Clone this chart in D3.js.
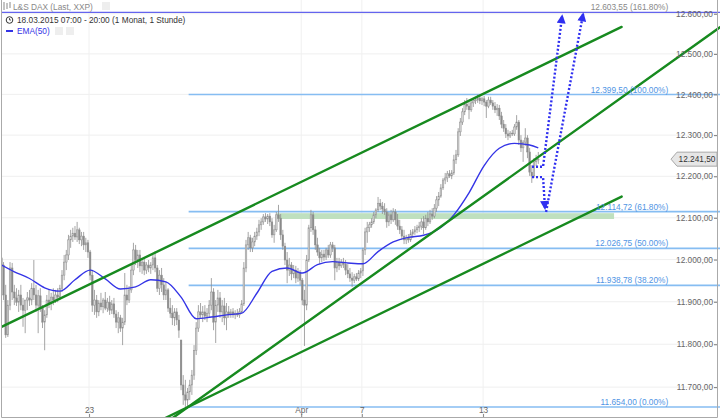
<!DOCTYPE html>
<html>
<head>
<meta charset="utf-8">
<script src="https://cdnjs.cloudflare.com/ajax/libs/d3/7.8.5/d3.min.js"></script>
<style>
  body { margin: 0; background: #fff; }
  #graphic { width: 720px; height: 419px; overflow: hidden; }
  text { font-family: "Liberation Sans", Arial, sans-serif; }
</style>
</head>
<body>
<div id="graphic"></div>
<script>
const WIDTH = 720;
const HEIGHT = 419;
const PLOT_TOP = 12.3;
const PLOT_BOTTOM = 407;
const X_START = -0.8;
const CANDLE_STEP = 2.165;
const X_SLOTS = 332;
const FONT_SIZE = "8.3px";

// hourly candles, 14 per day, [open, high, low, close]
const CANDLES = [
  // 18.03.
  [12011,12030,11994,12004],[12004,12023,11980,11987],[11987,11994,11904,11916],[11916,11940,11815,11822],[11822,11904,11817,11892],[11892,11994,11880,11980],[11980,11992,11904,11923],[11923,11940,11892,11909],[11909,11932,11890,11899],[11899,11928,11876,11916],[11916,11940,11880,11892],[11892,11909,11841,11880],[11880,11904,11826,11904],[11904,11923,11880,11909],
  // 19.03.
  [11909,11928,11890,11904],[11904,11944,11892,11932],[11932,11999,11904,11916],[11916,11940,11876,11892],[11892,11928,11826,11914],[11914,11932,11876,11885],[11885,11892,11838,11852],[11852,11880,11786,11869],[11869,11916,11862,11904],[11904,11928,11885,11897],[11897,11921,11880,11911],[11911,11932,11892,11904],[11904,11928,11897,11916],[11916,11932,11899,11911],
  // 20.03.
  [11911,11940,11904,11932],[11932,11975,11923,11963],[11963,12011,11951,11994],[11994,12023,11975,12011],[12011,12059,11999,12047],[12047,12071,12028,12056],[12056,12076,12042,12063],[12063,12080,12047,12054],[12054,12090,12042,12071],[12071,12076,12037,12047],[12047,12066,12032,12056],[12056,12066,12023,12035],[12035,12052,12018,12040],[12040,12047,12004,12018],
  // 23.03.
  [12018,12023,11951,11963],[11963,11975,11876,11892],[11892,11928,11869,11904],[11904,11916,11862,11876],[11876,11904,11866,11897],[11897,11921,11880,11888],[11888,11909,11873,11904],[11904,11923,11880,11885],[11885,11909,11876,11899],[11899,11914,11869,11880],[11880,11904,11871,11895],[11895,11909,11862,11871],[11871,11880,11838,11852],[11852,11876,11826,11862],
  // 24.03.
  [11862,11869,11829,11838],[11838,11862,11798,11852],[11852,11968,11845,11916],[11916,11940,11892,11904],[11904,11937,11897,11928],[11928,11987,11921,11975],[11975,12040,11963,12023],[12023,12035,11987,11999],[11999,12023,11980,12011],[12011,12023,11970,11985],[11985,12004,11966,11994],[11994,12004,11963,11975],[11975,11994,11966,11987],[11987,11999,11970,11980],
  // 25.03.
  [11980,11994,11966,11987],[11987,12011,11975,12004],[12004,12020,11970,11980],[11980,11987,11923,11932],[11932,11975,11916,11963],[11963,11980,11923,11940],[11940,11956,11904,11916],[11916,11947,11904,11928],[11928,11932,11876,11885],[11885,11909,11862,11873],[11873,11892,11845,11862],[11862,11885,11843,11876],[11876,11885,11845,11857],[11857,11869,11815,11833],
  // 26.03.
  [11810,11810,11693,11705],[11705,11728,11659,11682],[11682,11717,11654,11670],[11670,11698,11656,11689],[11689,11717,11670,11705],[11705,11740,11682,11728],[11728,11798,11717,11786],[11786,11852,11775,11838],[11838,11892,11829,11876],[11876,11897,11862,11869],[11869,11890,11852,11876],[11876,11892,11857,11866],[11866,11885,11852,11873],[11873,11904,11862,11892],
  // 27.03.
  [11892,11956,11880,11923],[11923,11932,11833,11852],[11852,11904,11803,11892],[11892,11928,11876,11909],[11909,11923,11862,11876],[11876,11904,11852,11890],[11890,11909,11845,11862],[11862,11897,11833,11876],[11876,11890,11862,11871],[11871,11883,11862,11876],[11876,11885,11862,11869],[11869,11880,11859,11873],[11873,11883,11864,11869],[11869,11885,11862,11876],
  // 30.03.
  [11876,11904,11871,11895],[11895,11994,11890,11980],[11980,12047,11970,12035],[12035,12066,12023,12052],[12052,12059,12018,12028],[12028,12052,12018,12042],[12042,12066,12032,12056],[12056,12076,12047,12066],[12066,12095,12056,12083],[12083,12099,12071,12090],[12090,12109,12083,12102],[12102,12111,12090,12097],[12097,12109,12085,12104],[12104,12111,12080,12090],
  // 31.03.
  [12090,12099,12052,12059],[12059,12083,12040,12071],[12071,12114,12066,12107],[12107,12131,12090,12099],[12099,12109,12047,12059],[12059,12071,12023,12032],[12032,12040,11987,11999],[11999,12018,11944,11975],[11975,12004,11961,11987],[11987,11994,11951,11966],[11966,11987,11956,11975],[11975,11985,11944,11956],[11956,11980,11947,11970],[11970,11975,11940,11951],
  // 01.04.
  [11951,11956,11892,11904],[11904,11928,11796,11892],[11892,12011,11880,11999],[11999,12083,11994,12076],[12076,12119,12066,12107],[12107,12114,12059,12071],[12071,12080,12023,12035],[12035,12052,12009,12018],[12018,12028,11989,12004],[12004,12023,11994,12013],[12013,12023,11997,12006],[12006,12028,11999,12023],[12023,12035,12004,12011],[12011,12042,12004,12035],
  // 02.04.
  [12035,12042,12018,12028],[12028,12035,11951,11980],[11980,12004,11970,11994],[11994,12004,11975,11985],[11985,12001,11980,11994],[11994,12004,11980,11989],[11989,11999,11963,11975],[11975,11989,11956,11966],[11966,11980,11947,11956],[11956,11970,11935,11951],[11951,11966,11944,11959],[11959,11968,11949,11954],[11954,11975,11949,11968],[11968,11980,11956,11973],
  // 07.04.
  [11973,12028,11961,12023],[12023,12076,12011,12066],[12066,12090,12040,12076],[12076,12090,12066,12083],[12083,12099,12076,12090],[12090,12114,12085,12107],[12107,12123,12099,12119],[12119,12150,12114,12135],[12135,12145,12119,12128],[12128,12138,12109,12121],[12121,12135,12107,12114],[12114,12123,12076,12090],[12090,12114,12080,12107],[12107,12119,12085,12095],
  // 08.04.
  [12095,12123,12090,12114],[12114,12121,12083,12095],[12095,12109,12071,12080],[12080,12095,12061,12071],[12071,12080,12047,12056],[12056,12071,12037,12047],[12047,12059,12037,12052],[12052,12061,12040,12047],[12047,12071,12042,12061],[12061,12073,12052,12066],[12066,12080,12059,12071],[12071,12083,12063,12076],[12076,12090,12066,12080],[12080,12099,12071,12090],
  // 09.04.
  [12090,12104,12061,12076],[12076,12107,12071,12099],[12099,12114,12080,12090],[12090,12119,12085,12109],[12109,12123,12095,12104],[12104,12133,12099,12123],[12123,12152,12114,12143],[12143,12162,12128,12152],[12152,12181,12148,12172],[12172,12196,12167,12191],[12191,12208,12181,12196],[12196,12213,12186,12206],[12206,12215,12196,12201],[12201,12215,12193,12208],
  // 10.04.
  [12208,12252,12203,12240],[12240,12264,12230,12252],[12252,12317,12247,12308],[12308,12342,12298,12332],[12332,12366,12325,12357],[12357,12386,12349,12376],[12376,12391,12362,12371],[12371,12381,12339,12362],[12362,12386,12357,12379],[12379,12389,12369,12384],[12384,12394,12376,12386],[12386,12399.5,12379,12391],[12391,12396,12376,12384],[12384,12394,12374,12389],
  // 13.04.
  [12389,12396,12371,12381],[12381,12386,12342,12371],[12371,12394,12366,12386],[12386,12394,12374,12379],[12379,12386,12362,12371],[12371,12381,12354,12362],[12362,12376,12347,12366],[12366,12374,12337,12347],[12347,12357,12317,12327],[12327,12337,12308,12317],[12317,12327,12293,12303],[12303,12313,12288,12298],[12298,12310,12293,12305],[12305,12313,12298,12303],
  // 14.04.
  [12303,12327,12298,12320],[12320,12349,12313,12332],[12332,12337,12276,12288],[12288,12300,12259,12269],[12269,12288,12235,12283],[12283,12317,12274,12293],[12293,12300,12244,12259],[12259,12269,12201,12210],[12210,12227,12184,12201],[12201,12244,12196,12235],[12235,12252,12225,12240],[12240,12259,12230,12241.5]
];

// EMA(50) read every half day
const EMA_INDEX = [0,7,14,21,28,35,42,49,56,63,70,77,84,91,98,105,112,119,126,133,140,147,154,161,168,175,182,189,196,203,210,217,224,231,238,245,249];
const EMA_VALUES = [11990,11971,11955,11933,11925,11952,11975,11954,11930,11935,11952,11947,11911,11860,11864,11869,11873,11920,11972,11980,11968,11988,11995,11992,11990,12019,12042,12053,12058,12073,12107,12160,12226,12268,12280,12276,12269];

const Y_TICKS = [11700, 11800, 11900, 12000, 12100, 12200, 12300, 12400, 12500, 12600];
const X_TICK_INDEX = [41.5, 139.5, 167.5, 223.5];
const X_TICK_LABELS = ["23", "Apr", "7", "13"];

const FIB_LEVELS = [12603.55, 12399.50, 12114.72, 12026.75, 11938.78, 11654.00];
const FIB_RATIOS = ["161.80%", "100.00%", "61.80%", "50.00%", "38.20%", "0.00%"];
const FIB_START = 87.5;
const FIB_LABEL_AT = 309;

const LAST_PRICE = 12241.5;

// [[index, price], [index, price]]
const TREND_LINES = [
  [[0.4, 11839], [287.5, 12567]],
  [[79.4, 11626], [332.9, 12566]],
  [[75.7, 11626], [287.5, 12151]]
];
const ZONE_INDEX = [128.3, 284];
const ZONE_PRICE = [12097, 12111];

const ARROW_PATHS = [
  [[246.1, 12223], [251.2, 12223], [260.0, 12594]],
  [[246.1, 12198], [251.2, 12198], [252.1, 12123]],
  [[252.6, 12114], [269.7, 12599]]
];

var svg;
var plot;
var xScale;
var yScale;
var priceFormat = d3.formatLocale({decimal: ",", thousands: ".", grouping: [3], currency: ["", ""]}).format(",.2f");

function renderLayout() {
  svg = d3.select("#graphic")
    .append("svg")
    .attr("width", WIDTH)
    .attr("height", HEIGHT);

  xScale = d3.scaleLinear()
    .domain([0, X_SLOTS])
    .range([X_START, X_START + X_SLOTS * CANDLE_STEP]);

  yScale = d3.scaleLog()
    .domain([FIB_LEVELS[5], FIB_LEVELS[0]])
    .range([PLOT_BOTTOM, PLOT_TOP]);

  svg.append("defs").append("clipPath")
    .attr("id", "clip")
    .append("rect")
    .attr("x", 1).attr("y", 0)
    .attr("width", WIDTH - 1).attr("height", 418);

  svg.select("defs").append("marker")
    .attr("id", "arrow")
    .attr("viewBox", "0 0 10 10")
    .attr("refX", 8).attr("refY", 5)
    .attr("markerWidth", 10).attr("markerHeight", 9)
    .attr("markerUnits", "userSpaceOnUse")
    .attr("orient", "auto")
    .append("path")
    .attr("d", "M0,0 L10,5 L0,10 Z")
    .attr("fill", "#2f2ff0");
}

function renderGrid() {
  var grid = svg.append("g");
  grid.selectAll(".hgrid")
    .data(Y_TICKS)
    .join("line")
    .attr("x1", 1).attr("x2", 717)
    .attr("y1", d => yScale(d)).attr("y2", d => yScale(d))
    .attr("stroke", "#efefef");
  grid.selectAll(".vgrid")
    .data(X_TICK_INDEX)
    .join("line")
    .attr("x1", d => xScale(d)).attr("x2", d => xScale(d))
    .attr("y1", 0).attr("y2", 418)
    .attr("stroke", "#f0f0f0");
}

function renderAxis() {
  var yAxis = svg.append("g")
    .attr("transform", "translate(717,0)")
    .call(d3.axisLeft(yScale).tickValues(Y_TICKS).tickSize(3).tickPadding(1).tickFormat(priceFormat));
  yAxis.select(".domain").remove();
  yAxis.selectAll("text").attr("fill", "#666").style("font-size", FONT_SIZE);
  yAxis.selectAll("line").attr("stroke", "#777");

  var xAxis = svg.append("g")
    .attr("transform", "translate(0,418)")
    .call(d3.axisTop(xScale).tickValues(X_TICK_INDEX).tickSize(4).tickPadding(1)
      .tickFormat((d, i) => X_TICK_LABELS[i]));
  xAxis.select(".domain").remove();
  xAxis.selectAll("text").attr("fill", "#666").style("font-size", FONT_SIZE);
  xAxis.selectAll("line").attr("stroke", "#888");

  svg.append("path")
    .attr("d", "M1.5,0 V417.5 H717.5 V0")
    .attr("fill", "none")
    .attr("stroke", "#aaa");
}

function renderZone() {
  plot.append("rect")
    .attr("x", xScale(ZONE_INDEX[0]))
    .attr("width", xScale(ZONE_INDEX[1]) - xScale(ZONE_INDEX[0]))
    .attr("y", yScale(ZONE_PRICE[1]))
    .attr("height", yScale(ZONE_PRICE[0]) - yScale(ZONE_PRICE[1]))
    .attr("fill", "#bfe0bf");
}

function renderFibs() {
  plot.selectAll(".fib")
    .data(FIB_LEVELS)
    .join("line")
    .attr("x1", (d, i) => i == 0 ? 1 : xScale(FIB_START))
    .attr("x2", WIDTH)
    .attr("y1", d => yScale(d)).attr("y2", d => yScale(d))
    .attr("stroke", (d, i) => i == 0 ? "#6464ee" : "#86bdf2")
    .attr("stroke-width", (d, i) => i == 0 ? 1.2 : 1.6);

  svg.selectAll(".fib-label")
    .data(FIB_LEVELS)
    .join("text")
    .attr("x", xScale(FIB_LABEL_AT))
    .attr("y", d => yScale(d) - 2)
    .attr("text-anchor", "end")
    .attr("fill", (d, i) => i == 0 ? "#888" : "#4f94e4")
    .style("font-size", FONT_SIZE)
    .text((d, i) => priceFormat(d) + " (" + FIB_RATIOS[i] + ")");
}

function renderCandles() {
  var g = plot.append("g");
  g.selectAll("line")
    .data(CANDLES)
    .join("line")
    .attr("x1", (d, i) => xScale(i)).attr("x2", (d, i) => xScale(i))
    .attr("y1", d => yScale(d[1])).attr("y2", d => yScale(d[2]))
    .attr("stroke", "#8e8e8e")
    .attr("stroke-width", 0.8);

  g.selectAll("rect")
    .data(CANDLES)
    .join("rect")
    .attr("x", (d, i) => xScale(i) - 0.8)
    .attr("width", 1.6)
    .attr("y", d => yScale(Math.max(d[0], d[3])))
    .attr("height", d => Math.max(0.8, Math.abs(yScale(d[0]) - yScale(d[3]))))
    .attr("fill", d => d[3] >= d[0] ? "#d4d4d4" : "#8a8a8a")
    .attr("stroke", "#8e8e8e")
    .attr("stroke-width", 0.5);
}

function renderEma() {
  var line = d3.line()
    .x((d, i) => xScale(EMA_INDEX[i]))
    .y(d => yScale(d))
    .curve(d3.curveMonotoneX);

  plot.append("path")
    .datum(EMA_VALUES)
    .attr("d", line)
    .attr("fill", "none")
    .attr("stroke", "#3434e6")
    .attr("stroke-width", 1.4);
}

function renderTrendLines() {
  plot.selectAll(".trend")
    .data(TREND_LINES)
    .join("line")
    .attr("x1", d => xScale(d[0][0])).attr("y1", d => yScale(d[0][1]))
    .attr("x2", d => xScale(d[1][0])).attr("y2", d => yScale(d[1][1]))
    .attr("stroke", "#178a1f")
    .attr("stroke-width", 2.4)
    .attr("stroke-linecap", "round");
}

function renderArrows() {
  var line = d3.line()
    .x(d => xScale(d[0]))
    .y(d => yScale(d[1]));

  plot.selectAll(".arrow")
    .data(ARROW_PATHS)
    .join("path")
    .attr("d", line)
    .attr("fill", "none")
    .attr("stroke", "#2f2ff0")
    .attr("stroke-width", 2.4)
    .attr("stroke-dasharray", "2,2")
    .attr("marker-end", "url(#arrow)");
}

function renderPriceTag() {
  var y = yScale(LAST_PRICE);
  var g = svg.append("g");
  g.append("path")
    .attr("d", `M671,${y} L677,${y - 7} H717 V${y + 7} H677 Z`)
    .attr("fill", "#e6e6e6")
    .attr("stroke", "#a8a8a8");
  g.append("text")
    .attr("x", 697)
    .attr("y", y + 3)
    .attr("text-anchor", "middle")
    .attr("fill", "#333")
    .style("font-size", FONT_SIZE)
    .text(priceFormat(LAST_PRICE));
}

function renderHeader() {
  var g = svg.append("g");
  // candle icon
  g.append("path")
    .attr("d", "M4,2 V10 M7,3 V9 M10,2 V8")
    .attr("stroke", "#888").attr("stroke-width", 1);
  g.append("text")
    .attr("x", 13).attr("y", 9.5)
    .attr("fill", "#888")
    .style("font-size", FONT_SIZE)
    .text("L&S DAX (Last, XXP)");
  g.append("rect")
    .attr("x", 102).attr("y", 2).attr("width", 8).attr("height", 8)
    .attr("fill", "#eee");

  // clock icon
  g.append("circle")
    .attr("cx", 9.5).attr("cy", 20).attr("r", 3.3)
    .attr("fill", "none").attr("stroke", "#333").attr("stroke-width", 1);
  g.append("path")
    .attr("d", "M9.5,18 V20 H11")
    .attr("fill", "none").attr("stroke", "#333").attr("stroke-width", 0.8);
  g.append("text")
    .attr("x", 17).attr("y", 23)
    .attr("fill", "#333")
    .style("font-size", FONT_SIZE)
    .text("18.03.2015 07:00 - 20:00 (1 Monat, 1 Stunde)");

  g.append("line")
    .attr("x1", 6).attr("x2", 13).attr("y1", 31).attr("y2", 31)
    .attr("stroke", "#3434e6").attr("stroke-width", 2);
  g.append("text")
    .attr("x", 17).attr("y", 34)
    .attr("fill", "#3434e6")
    .style("font-size", FONT_SIZE)
    .text("EMA(50)");
  g.selectAll(".btn")
    .data([55, 66])
    .join("rect")
    .attr("x", d => d).attr("y", 27).attr("width", 8).attr("height", 8)
    .attr("fill", "#eee");
}

renderLayout();
renderGrid();
plot = svg.append("g").attr("clip-path", "url(#clip)");
renderZone();
renderFibs();
renderCandles();
renderEma();
renderTrendLines();
renderArrows();
renderAxis();
renderPriceTag();
renderHeader();
</script>
</body>
</html>
